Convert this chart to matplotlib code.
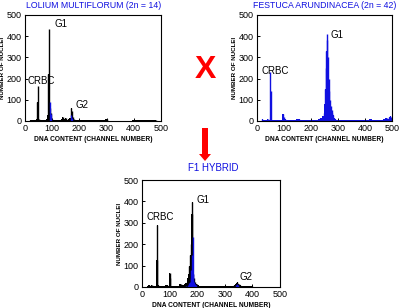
import matplotlib
matplotlib.use("Agg")
import matplotlib.pyplot as plt
from matplotlib.patches import FancyArrow

# ----------------------------------------------------------------------
# Data (channel, count)

# Lolium multiflorum: black histogram + blue gated part
lolium_ch = [15, 20, 25, 30, 35, 40, 43, 45, 48, 50, 53, 56, 60, 65, 70, 75, 80, 84, 86,
             89, 91, 94, 96, 100, 105, 110, 115, 120, 125, 130, 135, 140, 143, 147, 150,
             155, 160, 165, 170, 173, 176, 179, 182, 186, 190, 195, 200, 210, 220, 225,
             240, 260, 290, 300, 303, 310, 480, 485]
lolium_n = [0, 5, 6, 5, 6, 7, 10, 88, 165, 10, 6, 5, 6, 5, 6, 7, 10, 30, 220,
            435, 60, 40, 15, 8, 6, 5, 5, 6, 5, 6, 8, 20, 10, 8, 12,
            6, 8, 15, 60, 45, 20, 10, 6, 5, 5, 4, 5, 4, 3, 6,
            3, 3, 4, 8, 5, 0, 3, 0]
lolium_blue_ch = [92, 94, 168, 171]
lolium_blue_n = [90, 35, 27, 15]

# Festuca arundinacea: blue histogram
festuca_ch = [15, 20, 25, 30, 35, 40, 45, 48, 50, 52, 55, 60, 70, 80, 90, 98, 100, 103,
              110, 120, 130, 140, 150, 155, 160, 170, 180, 190, 200, 210, 220, 230,
              235, 240, 245, 248, 251, 253, 255, 257, 259, 261, 263, 265, 267, 270,
              273, 276, 279, 283, 287, 290, 295, 300, 310, 320, 330, 340, 350, 360,
              370, 380, 390, 400, 410, 420, 430, 440, 450, 460, 470, 480, 485, 490,
              493, 496, 499]
festuca_n = [0, 8, 5, 6, 4, 8, 5, 230, 140, 6, 5, 4, 5, 4, 5, 35, 20, 8,
             5, 4, 5, 6, 10, 8, 5, 4, 5, 4, 5, 4, 6, 8,
             12, 15, 25, 40, 80, 150, 250, 330, 410, 380, 300, 200, 140, 100,
             70, 50, 40, 30, 15, 10, 6, 5, 4, 5, 4, 5, 6, 5,
             4, 5, 4, 6, 5, 8, 5, 4, 6, 5, 8, 12, 10, 20,
             25, 20, 15]

# F1 hybrid: black histogram + blue gated part
hybrid_ch = [15, 20, 25, 30, 35, 40, 45, 50, 53, 55, 58, 62, 65, 70, 80, 90, 98, 101,
             103, 106, 110, 120, 130, 140, 145, 150, 155, 160, 163, 166, 169, 172,
             175, 178, 180, 182, 185, 188, 191, 195, 200, 210, 220, 235, 250, 300,
             320, 330, 335, 340, 343, 346, 350, 355, 360, 400, 405]
hybrid_n = [0, 5, 8, 6, 10, 6, 5, 6, 125, 290, 8, 6, 5, 6, 5, 8, 5, 65,
            40, 5, 4, 5, 4, 12, 10, 8, 15, 20, 25, 40, 60, 100,
            150, 200, 340, 395, 60, 40, 25, 15, 10, 6, 4, 5, 3, 4,
            3, 5, 8, 12, 20, 25, 15, 10, 5, 3, 0]
hybrid_blue_ch = [157, 160, 165, 170, 173, 176, 179, 182, 184, 186, 189, 192, 195, 198,
                  338, 341, 344, 347, 350]
hybrid_blue_n = [0, 5, 10, 20, 25, 40, 80, 150, 235, 60, 25, 15, 8, 0,
                 0, 8, 15, 10, 0]

# ----------------------------------------------------------------------
plt.rcParams['font.family'] = ['Liberation Sans', 'DejaVu Sans']

fig = plt.figure(figsize=(4.0, 3.08), dpi=100)
W, H = 400.0, 308.0
BLUE = '#1010e0'


def make_axes(left, right, top, bottom):
    ax = fig.add_axes([left / W, 1 - bottom / H, (right - left) / W, (bottom - top) / H])
    ax.set_xlim(0, 500)
    ax.set_ylim(0, 500)
    ax.set_xticks([0, 100, 200, 300, 400, 500])
    ax.set_yticks([0, 100, 200, 300, 400, 500])
    ax.tick_params(direction='in', length=2, width=0.7, labelsize=6.5, pad=2.5)
    for s in ax.spines.values():
        s.set_linewidth(0.8)
    ax.set_xlabel('DNA CONTENT (CHANNEL NUMBER)', fontsize=4.8, fontweight='bold', labelpad=1.5)
    ax.set_ylabel('NUMBER OF NUCLEI', fontsize=4.5, fontweight='bold', labelpad=1)
    return ax


def histo(ax, ch, n, color):
    # low-level fill plus a 1-px spike for every channel read
    ax.fill_between(ch, n, step='mid', color=color, lw=0)
    ax.vlines(ch, 0, n, color=color, lw=1.0)


# Lolium
ax1 = make_axes(25, 161, 15, 121)
histo(ax1, lolium_ch, lolium_n, 'black')
ax1.vlines(lolium_blue_ch, 0, lolium_blue_n, color=BLUE, lw=1.0)
ax1.text(11, 189, 'CRBC', fontsize=7, va='center')
ax1.text(107, 457, 'G1', fontsize=7, va='center')
ax1.text(184, 75, 'G2', fontsize=7, va='center')

# Festuca
ax2 = make_axes(257, 392, 15, 121)
histo(ax2, festuca_ch, festuca_n, BLUE)
ax2.text(15, 236, 'CRBC', fontsize=7, va='center')
ax2.text(274, 405, 'G1', fontsize=7, va='center')

# F1 hybrid
ax3 = make_axes(142, 280, 180, 287)
histo(ax3, hybrid_ch, hybrid_n, 'black')
histo(ax3, hybrid_blue_ch, hybrid_blue_n, BLUE)
ax3.text(18, 327, 'CRBC', fontsize=7, va='center')
ax3.text(199, 407, 'G1', fontsize=7, va='center')
ax3.text(355, 47, 'G2', fontsize=7, va='center')

# Titles
fig.text(94 / W, 1 - 7.5 / H, 'LOLIUM MULTIFLORUM (2n = 14)', color=BLUE,
         fontsize=6.3, ha='center', va='baseline')
fig.text(325 / W, 1 - 7.5 / H, 'FESTUCA ARUNDINACEA (2n = 42)', color=BLUE,
         fontsize=6.3, ha='center', va='baseline')
fig.text(213 / W, 1 - 171 / H, 'F1 HYBRID', color=BLUE,
         fontsize=7, ha='center', va='baseline')

# Cross sign and arrow
fig.text(205 / W, 1 - 70 / H, 'X', color='#ff0000', fontsize=23, fontweight='bold',
         ha='center', va='center')
fig.add_artist(FancyArrow(205 / W, 1 - 128 / H, 0, -33 / H, width=6 / W,
                          head_width=12 / W, head_length=7 / H,
                          length_includes_head=True, color='#ff0000', lw=0,
                          transform=fig.transFigure))

plt.savefig('out.png', dpi=100)
